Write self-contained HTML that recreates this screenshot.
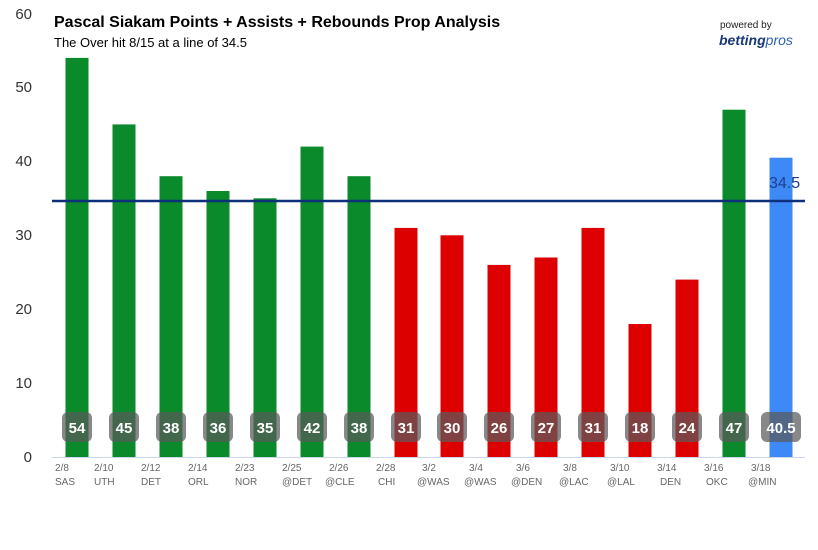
<!DOCTYPE html><html><head><style>body{margin:0;background:#fff}</style></head><body>
<svg width="818" height="545" xmlns="http://www.w3.org/2000/svg" font-family="Liberation Sans, sans-serif">
<rect width="818" height="545" fill="#fff"/>
<g font-size="15" fill="#333" text-anchor="end">
<text x="32" y="462">0</text><text x="32" y="388">10</text><text x="32" y="314">20</text><text x="32" y="240">30</text><text x="32" y="166">40</text><text x="32" y="92">50</text><text x="32" y="19">60</text>
</g>
<line x1="52" y1="457.5" x2="805" y2="457.5" stroke="#ccd6eb" stroke-width="1"/>
<text x="54" y="27" font-size="16" font-weight="bold" fill="#000">Pascal Siakam Points + Assists + Rebounds Prop Analysis</text>
<text x="54" y="47" font-size="13" fill="#000">The Over hit 8/15 at a line of 34.5</text>
<text x="720" y="28" font-size="10" fill="#222">powered by</text>
<text x="719" y="45" font-size="14" font-weight="bold" font-style="italic" fill="#1a3a7a">betting<tspan font-weight="normal" fill="#2b5fb3">pros</tspan></text>

<g fill="#0a8a2a">
<rect x="65.5" y="57.9" width="23" height="399.1"/>
<rect x="112.5" y="124.4" width="23" height="332.6"/>
<rect x="159.5" y="176.2" width="23" height="280.8"/>
<rect x="206.5" y="191" width="23" height="266"/>
<rect x="253.5" y="198.3" width="23" height="258.7"/>
<rect x="300.5" y="146.6" width="23" height="310.4"/>
<rect x="347.5" y="176.2" width="23" height="280.8"/>
<rect x="722.5" y="109.7" width="23" height="347.3"/>
</g>
<g fill="#dd0000">
<rect x="394.5" y="227.9" width="23" height="229.1"/>
<rect x="440.5" y="235.3" width="23" height="221.7"/>
<rect x="487.5" y="264.9" width="23" height="192.1"/>
<rect x="534.5" y="257.5" width="23" height="199.5"/>
<rect x="581.5" y="227.9" width="23" height="229.1"/>
<rect x="628.5" y="324" width="23" height="133"/>
<rect x="675.5" y="279.6" width="23" height="177.4"/>
</g>
<rect x="769.5" y="157.7" width="23" height="299.3" fill="#3d8af7"/>

<line x1="52" y1="201" x2="805" y2="201" stroke="#0e2f7a" stroke-width="2.5"/>
<text x="769" y="188" font-size="16" fill="#1b3f8f">34.5</text>

<g fill="rgba(90,90,90,0.72)">
<rect x="62" y="412" width="30" height="30" rx="6"/>
<rect x="109" y="412" width="30" height="30" rx="6"/>
<rect x="156" y="412" width="30" height="30" rx="6"/>
<rect x="203" y="412" width="30" height="30" rx="6"/>
<rect x="250" y="412" width="30" height="30" rx="6"/>
<rect x="297" y="412" width="30" height="30" rx="6"/>
<rect x="344" y="412" width="30" height="30" rx="6"/>
<rect x="391" y="412" width="30" height="30" rx="6"/>
<rect x="437" y="412" width="30" height="30" rx="6"/>
<rect x="484" y="412" width="30" height="30" rx="6"/>
<rect x="531" y="412" width="30" height="30" rx="6"/>
<rect x="578" y="412" width="30" height="30" rx="6"/>
<rect x="625" y="412" width="30" height="30" rx="6"/>
<rect x="672" y="412" width="30" height="30" rx="6"/>
<rect x="719" y="412" width="30" height="30" rx="6"/>
<rect x="761" y="412" width="40" height="30" rx="6"/>
</g>
<g font-size="15" font-weight="bold" fill="#fff" text-anchor="middle">
<text x="77" y="433">54</text><text x="124" y="433">45</text><text x="171" y="433">38</text><text x="218" y="433">36</text>
<text x="265" y="433">35</text><text x="312" y="433">42</text><text x="359" y="433">38</text><text x="406" y="433">31</text>
<text x="452" y="433">30</text><text x="499" y="433">26</text><text x="546" y="433">27</text><text x="593" y="433">31</text>
<text x="640" y="433">18</text><text x="687" y="433">24</text><text x="734" y="433">47</text><text x="781" y="433">40.5</text>
</g>
<g font-size="10" fill="#666">
<text x="55" y="471">2/8</text><text x="55" y="485">SAS</text>
<text x="94" y="471">2/10</text><text x="94" y="485">UTH</text>
<text x="141" y="471">2/12</text><text x="141" y="485">DET</text>
<text x="188" y="471">2/14</text><text x="188" y="485">ORL</text>
<text x="235" y="471">2/23</text><text x="235" y="485">NOR</text>
<text x="282" y="471">2/25</text><text x="282" y="485">@DET</text>
<text x="329" y="471">2/26</text><text x="325" y="485">@CLE</text>
<text x="376" y="471">2/28</text><text x="378" y="485">CHI</text>
<text x="422" y="471">3/2</text><text x="417" y="485">@WAS</text>
<text x="469" y="471">3/4</text><text x="464" y="485">@WAS</text>
<text x="516" y="471">3/6</text><text x="511" y="485">@DEN</text>
<text x="563" y="471">3/8</text><text x="559" y="485">@LAC</text>
<text x="610" y="471">3/10</text><text x="607" y="485">@LAL</text>
<text x="657" y="471">3/14</text><text x="660" y="485">DEN</text>
<text x="704" y="471">3/16</text><text x="706" y="485">OKC</text>
<text x="751" y="471">3/18</text><text x="748" y="485">@MIN</text>
</g>
</svg></body></html>
